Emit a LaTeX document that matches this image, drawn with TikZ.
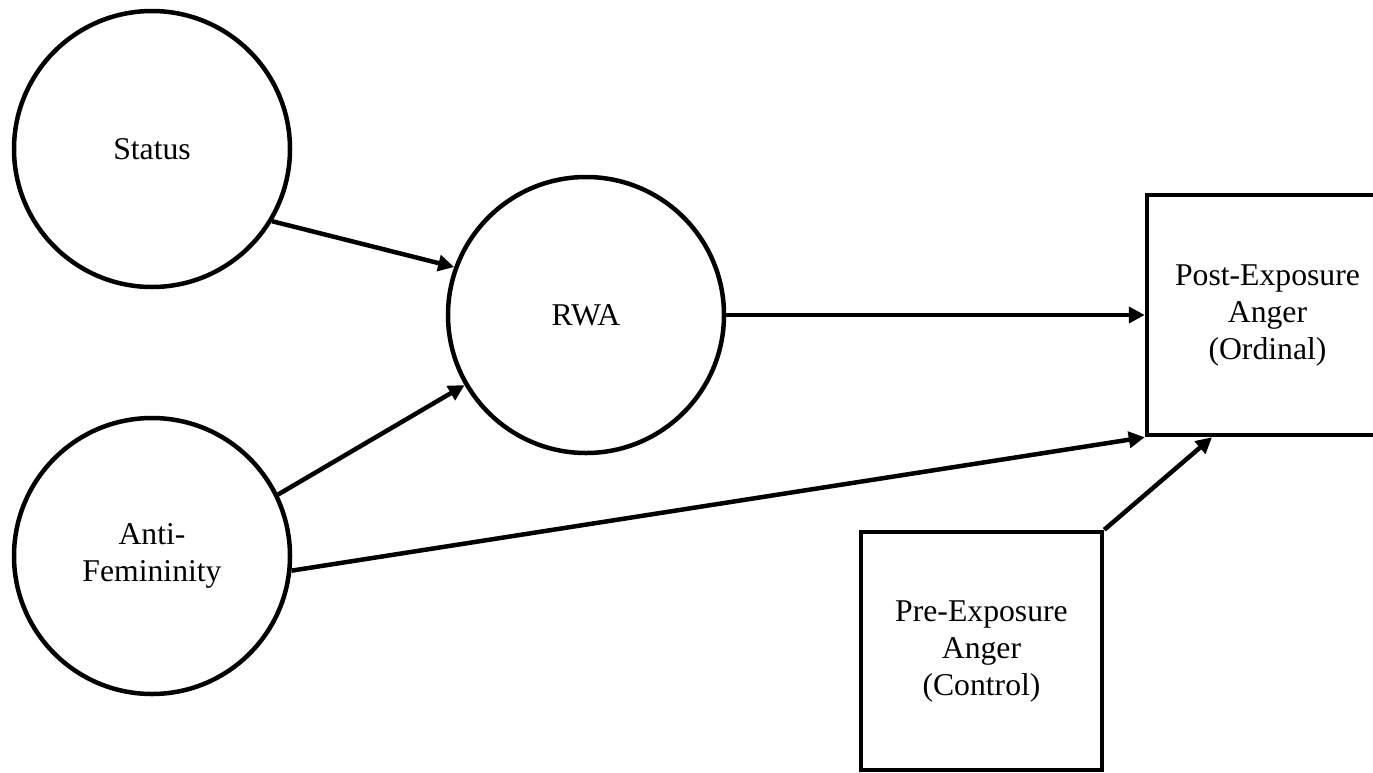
\documentclass[tikz,border=0pt]{standalone}
\usepackage{fontspec}
\setmainfont{Liberation Serif}
\usetikzlibrary{arrows.meta,calc}

\tikzset{
  latent/.style={draw, circle, line width=4.5pt, minimum size=276pt, inner sep=0pt,
    align=center, font=\fontsize{31.7}{37}\selectfont},
  observed/.style={draw, rectangle, line width=4.5pt, minimum width=241pt, inner sep=0pt,
    align=center, font=\fontsize{31.7}{37}\selectfont},
  path/.style={line width=4.5pt, -{Triangle[length=16pt,width=16pt]}}
}

\begin{document}
\begin{tikzpicture}[x=1pt, y=-1pt]
  \useasboundingbox (0,0) rectangle (1373,772);
  \clip (0,0) rectangle (1373,772);

  % latent constructs
  \node[latent] (status) at (152,149) {Status};
  \node[latent] (rwa)    at (586,315) {RWA};
  \node[latent] (antifem) at (152,556) {Anti-\\Femininity};

  % observed outcomes
  \node[observed, minimum height=240pt] (post) at (1267.5,315) {Post-Exposure\\Anger\\(Ordinal)};
  \node[observed, minimum height=238pt] (pre)  at (981.5,651) {Pre-Exposure\\Anger\\(Control)};

  % structural paths
  \draw[path] (status.-31.7) -- (rwa.160);
  \draw[path] (antifem.26.6) -- (rwa.210);
  \draw[path] (rwa.east) -- (post.west);
  \draw[path] (antifem.-6.6) -- (post.south west);
  \draw[path] (pre.north east) -- ($(post.south west)!0.274!(post.south east)$);
\end{tikzpicture}
\end{document}
